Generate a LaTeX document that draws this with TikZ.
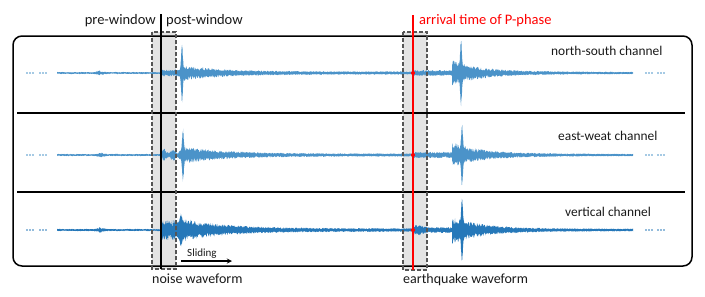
\documentclass[tikz,border=0pt]{standalone}
\usepackage{fontspec}
\setmainfont{Carlito}
\definecolor{wlight}{RGB}{75,147,201}
\definecolor{wdark}{RGB}{38,120,185}
\definecolor{txt}{RGB}{25,25,25}
\definecolor{boxfill}{RGB}{228,228,228}
\definecolor{boxline}{RGB}{85,85,85}
% filled jagged waveform segment: {baseline}{from}{to}{samples}{envelope in \x}
\newcommand\wseg[5]{\fill plot[domain=#2:#3,samples=#4] (\x,{#1-(#5)*(0.4+0.6*rnd)})
  -- plot[domain=#3:#2,samples=#4] (\x,{#1+(#5)*(0.4+0.6*rnd)}) -- cycle;}
% spike: less random, so the peak always shows
\newcommand\wspk[5]{\fill plot[domain=#2:#3,samples=#4] (\x,{#1-(#5)*(0.8+0.2*rnd)})
  -- plot[domain=#3:#2,samples=#4] (\x,{#1+(#5)*(0.8+0.2*rnd)}) -- cycle;}
\begin{document}
\begin{tikzpicture}[x=1pt,y=-1pt,
  lbl/.style={inner sep=0pt,text=txt,font=\fontsize{14.5}{16}\selectfont},
  chl/.style={inner sep=0pt,text=txt,font=\fontsize{13.4}{15}\selectfont},
  winbox/.style={draw=boxline,dashed,dash pattern=on 4pt off 2pt,line width=1.1pt},
  sep/.style={line width=1.2pt,black},
  dotl/.style={fill,circle,inner sep=0pt,minimum size=1.6pt},
]
\useasboundingbox (0,0) rectangle (705,297);

% window fills
\coordinate (n1) at (152,32); \coordinate (n2) at (176,269);
\coordinate (e1) at (403,32); \coordinate (e2) at (427,270);
\fill[boxfill] (n1) rectangle (n2);
\fill[boxfill] (e1) rectangle (e2);

% outer frame and separators
\draw[line width=1.5pt,rounded corners=9pt] (13,36) rectangle (692,266);
\coordinate (s1a) at (17,113); \coordinate (s1b) at (685,113);
\coordinate (s2a) at (17,192); \coordinate (s2b) at (685,192);
\draw[sep] (s1a) -- (s1b);
\draw[sep] (s2a) -- (s2b);

% north-south waveform
\pgfmathsetseed{11}
\begin{scope}[wlight]
\wseg{73}{57}{162}{160}{1.1+1.3*exp(0-pow(min(abs(\x-100)/4,6),2))}
\wseg{73}{160}{181}{45}{3.5}
\wseg{73}{181}{414}{520}{1.6+7*exp(0-(\x-180)/40)}
\wspk{73}{178}{186}{50}{3+27*exp(0-((\x-182)/1.2)*((\x-182)/1.2))}
\wseg{73}{413}{453}{90}{3}
\wseg{73}{452}{633}{420}{1.0+11*exp(0-(\x-452)/28)+1.2*exp(0-(\x-452)/110)}
\wspk{73}{457}{466}{50}{6+28*exp(0-((\x-461)/1.2)*((\x-461)/1.2))}
\end{scope}

% east-west waveform
\pgfmathsetseed{23}
\begin{scope}[wlight]
\wseg{155}{57}{162}{160}{1.1+1.3*exp(0-pow(min(abs(\x-101)/4,6),2))}
\wseg{155}{160}{181}{45}{4.5+2*sin(\x*40)}
\wseg{155}{181}{414}{520}{1.6+8*exp(0-(\x-180)/40)}
\wspk{155}{179}{187}{50}{4+23*exp(0-((\x-183)/1.2)*((\x-183)/1.2))}
\wseg{155}{413}{453}{90}{3.2}
\wseg{155}{452}{633}{420}{1.0+11*exp(0-(\x-452)/28)+1.2*exp(0-(\x-452)/110)}
\wspk{155}{458}{467}{50}{6+27*exp(0-((\x-462)/1.2)*((\x-462)/1.2))}
\end{scope}

% vertical waveform
\pgfmathsetseed{37}
\begin{scope}[wdark]
\wseg{230}{57}{162}{160}{1.2+1.5*exp(0-pow(min(abs(\x-100)/4,6),2))}
\wseg{230}{160}{182}{45}{10}
\wseg{230}{181}{414}{520}{1.8+11*exp(0-(\x-180)/42)}
\wspk{230}{177}{186}{50}{8+9*exp(0-((\x-181)/1.5)*((\x-181)/1.5))}
\wseg{230}{413}{453}{90}{3+3*exp(0-((\x-418)/5)*((\x-418)/5))}
\wseg{230}{452}{633}{420}{1.1+12*exp(0-(\x-452)/28)+1.3*exp(0-(\x-452)/110)}
\wspk{230}{458}{467}{50}{7+26*exp(0-((\x-462)/1.2)*((\x-462)/1.2))}
\end{scope}

% ellipsis dots
\foreach \yy/\cc in {73/wlight,155/wlight,230/wdark}{
  \foreach \xx in {27,30,33,40,43,46,646,649,652,658,661,664}{
    \node[dotl,\cc] at (\xx,\yy) {};
  }
}

% window borders
\draw[winbox] (n1) rectangle (n2);
\draw[winbox] (e1) rectangle (e2);

% vertical lines
\coordinate (bt) at (161,14); \coordinate (bb) at (161,269);
\draw[line width=1.5pt,black] (bt) -- (bb);
\coordinate (rt) at (413,15); \coordinate (rb) at (413,270);
\draw[line width=1.2pt,red] (rt) -- (rb);
\foreach \yy in {73,155,230}{ \fill[red] (413,\yy) circle (2pt); }

% labels
\node[lbl,anchor=base east] (pre) at (156,24) {pre-window};
\node[lbl,anchor=base west] (post) at (166,24) {post-window};
\node[lbl,anchor=base west,text=red] (arr) at (419,24.5) {arrival time of P-phase};
\node[chl,anchor=base west] (ns) at (551,55) {north-south channel};
\node[chl,anchor=base west] (ew) at (558,140) {east-weat channel};
\node[chl,anchor=base west] (vc) at (565,216) {vertical channel};
\node[lbl,anchor=base west,font=\fontsize{14}{16}\selectfont] (nw) at (152,283) {noise waveform};
\node[lbl,anchor=base west,font=\fontsize{14}{16}\selectfont] (ew2) at (403,283) {earthquake waveform};
\node[inner sep=0pt,text=txt,font=\fontsize{11}{13}\selectfont,anchor=base west] (sl) at (187,256) {Sliding};
\coordinate (sa) at (181,261); \coordinate (sb) at (232,261);
\draw[line width=1.3pt,-stealth] (sa) -- (sb);
\end{tikzpicture}
\end{document}
